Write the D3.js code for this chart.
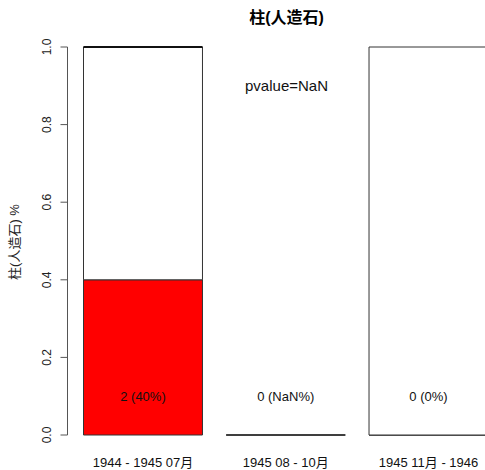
<!DOCTYPE html>
<html><head><meta charset="utf-8">
<script src="https://cdn.jsdelivr.net/npm/d3@7"></script>
<style>body{margin:0;background:#fff}svg{display:block}text{font-family:"Liberation Sans","Noto Sans CJK SC",sans-serif}</style>
</head><body>
<script>
const categories = ["1944 - 1945 07月", "1945 08 - 10月", "1945 11月 - 1946"];
const redShare = [0.4, 0, 0];
const whiteShare = [0.6, 0, 1];
const barLabels = ["2 (40%)", "0 (NaN%)", "0 (0%)"];
const yTicks = [0, 0.2, 0.4, 0.6, 0.8, 1.0];
const title = "柱(人造石)";
const yTitle = "柱(人造石) %";
const pText = "pvalue=NaN";

const W = 485, H = 470;
const svg = d3.select("body").append("svg").attr("width", W).attr("height", H);
const space = 0.2;
const x = d3.scaleLinear().domain([0.2, 3.6]).range([83.5, 488]);
const y = d3.scaleLinear().domain([0, 1]).range([435, 47]);
const left = i => space + i * (1 + space);
const box = (x0, x1, ya, yb) => `M${x0},${ya}H${x1}V${yb}H${x0}Z`;

const g = svg.append("g");
categories.forEach((c, i) => {
  const x0 = x(left(i)), x1 = x(left(i) + 1);
  const r = redShare[i], w = whiteShare[i];
  g.append("path").attr("d", box(x0, x1, y(0), y(r)))
    .attr("fill", "#ff0000").attr("stroke", "#333").attr("stroke-width", 1);
  g.append("path").attr("d", box(x0, x1, y(r), y(r + w)))
    .attr("fill", "#fff").attr("stroke", "#333").attr("stroke-width", 1);
  if (i === 0) {
    g.append("line").attr("x1", x0).attr("x2", x1).attr("y1", y(r + w)).attr("y2", y(r + w))
      .attr("stroke", "#111").attr("stroke-width", 2);
  }
  svg.append("text").attr("x", (x0 + x1) / 2).attr("y", y(0.1) + 5).attr("text-anchor", "middle")
    .attr("font-size", 13).attr("fill", "#111").text(barLabels[i]);
  svg.append("text").attr("x", (x0 + x1) / 2).attr("y", 467).attr("text-anchor", "middle")
    .attr("font-size", 13).attr("fill", "#111").text(c);
});

const ax = svg.append("g").attr("transform", "translate(67.5,0)")
  .call(d3.axisLeft(y).tickValues(yTicks).tickFormat(d3.format(".1f")).tickSize(7).tickPadding(13));
ax.selectAll("path,line").attr("stroke", "#555");
ax.select(".domain").attr("d", `M0,${y(1)}V${y(0)}`);
ax.selectAll(".tick").attr("transform", null);
ax.selectAll(".tick line").each(function(d){ d3.select(this).attr("y1", y(d)).attr("y2", y(d)); });
ax.selectAll(".tick text").attr("font-size", 12).attr("fill", "#222")
  .attr("font-family", "Liberation Sans, sans-serif")
  .attr("text-anchor", "middle").attr("x", 0).attr("y", 0).attr("dy", "0.35em")
  .each(function(d){ d3.select(this).attr("transform", `translate(-21,${y(d)}) rotate(-90)`); });

svg.append("text").attr("x", 286.5).attr("y", 23).attr("text-anchor", "middle")
  .attr("font-size", 16).attr("font-weight", "bold").text(title);
svg.append("text").attr("transform", "translate(19,242) rotate(-90)").attr("text-anchor", "middle")
  .attr("font-size", 13).attr("fill", "#222").text(yTitle);
svg.append("text").attr("x", 286.5).attr("y", 91).attr("text-anchor", "middle")
  .attr("font-size", 15).attr("fill", "#111").text(pText);
</script>
</body></html>
